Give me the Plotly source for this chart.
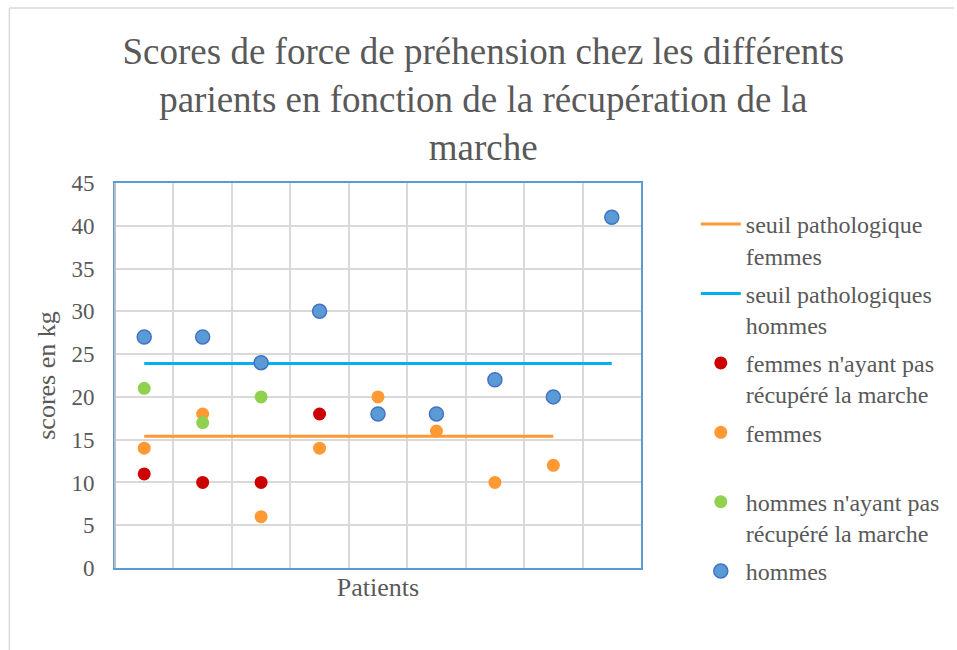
import plotly.graph_objects as go

patients = [1, 2, 3, 4, 5, 6, 7, 8, 9]

seuil_femmes_x = [1, 2, 3, 4, 5, 6, 7, 8]
seuil_femmes = [15.4, 15.4, 15.4, 15.4, 15.4, 15.4, 15.4, 15.4]

seuil_hommes_x = [1, 2, 3, 4, 5, 6, 7, 8, 9]
seuil_hommes = [23.9, 23.9, 23.9, 23.9, 23.9, 23.9, 23.9, 23.9, 23.9]

femmes_nr_x = [1, 2, 3, 4]
femmes_nr = [11, 10, 10, 18]

femmes_x = [1, 2, 3, 4, 5, 6, 7, 8]
femmes = [14, 18, 6, 14, 20, 16, 10, 12]

hommes_nr_x = [1, 2, 3]
hommes_nr = [21, 17, 20]

hommes_x = [1, 2, 3, 4, 5, 6, 7, 8, 9]
hommes = [27, 27, 24, 30, 18, 18, 22, 20, 41]

y_ticks = [0, 5, 10, 15, 20, 25, 30, 35, 40, 45]

FONT = "Times New Roman, Liberation Serif, serif"
GREY = "#595959"

fig = go.Figure()

fig.add_trace(go.Scatter(x=seuil_femmes_x, y=seuil_femmes, mode="lines",
                         name="seuil pathologique<br>femmes", legendgroup="a",
                         line=dict(color="#FF9933", width=3)))
fig.add_trace(go.Scatter(x=seuil_hommes_x, y=seuil_hommes, mode="lines",
                         name="seuil pathologiques<br>hommes", legendgroup="b",
                         line=dict(color="#00B0F0", width=3)))
fig.add_trace(go.Scatter(x=femmes_nr_x, y=femmes_nr, mode="markers",
                         name="femmes n'ayant pas<br>récupéré la marche", legendgroup="c",
                         marker=dict(color="#CC0000", size=13)))
fig.add_trace(go.Scatter(x=femmes_x, y=femmes, mode="markers",
                         name="femmes<br> ", legendgroup="d",
                         marker=dict(color="#FF9933", size=13)))
fig.add_trace(go.Scatter(x=hommes_nr_x, y=hommes_nr, mode="markers",
                         name="hommes n'ayant pas<br>récupéré la marche", legendgroup="e",
                         marker=dict(color="#92D050", size=13)))
fig.add_trace(go.Scatter(x=hommes_x, y=hommes, mode="markers",
                         name="hommes", legendgroup="f",
                         marker=dict(color="#5B9BD5", size=14,
                                     line=dict(color="#4472C4", width=1.5))))

L, R, T, B = 115, 643, 183, 568
W, H = 957, 650
pw, ph = R - L, B - T

def px(x):
    return (x - L) / pw

def py(y):
    return (B - y) / ph

shapes = [
    # outer chart frame
    dict(type="line", xref="paper", yref="paper", x0=px(9), x1=px(9), y0=py(8), y1=py(660),
         line=dict(color="#D9D9D9", width=1.5)),
    dict(type="line", xref="paper", yref="paper", x0=px(9), x1=px(957), y0=py(8), y1=py(8),
         line=dict(color="#D9D9D9", width=1.5)),
    # left axis line grey
    dict(type="line", xref="paper", yref="paper", x0=0, x1=0, y0=0, y1=1,
         line=dict(color="#BFBFBF", width=2), layer="above"),
]

fig.update_layout(
    width=W, height=H,
    margin=dict(l=L, r=W - R, t=T, b=H - B, pad=0),
    paper_bgcolor="white", plot_bgcolor="white",
    font=dict(family=FONT, color=GREY, size=23),
    title=dict(text="Scores de force de préhension chez les différents<br>parients en fonction de la récupération de la<br>marche",
               x=0.505, xanchor="center", y=1 - 64 / H, yanchor="top", yref="container",
               font=dict(family=FONT, size=37, color=GREY)),
    xaxis=dict(range=[0.5, 9.5], tickvals=[0.5, 1.5, 2.5, 3.5, 4.5, 5.5, 6.5, 7.5, 8.5, 9.5],
               showticklabels=False, showgrid=True, gridcolor="#D9D9D9", gridwidth=1.5,
               zeroline=False, showline=True, linecolor="#5B9BD5", linewidth=2, mirror=True,
               ticks="", title=dict(text="Patients", font=dict(family=FONT, size=26), standoff=9)),
    yaxis=dict(range=[0, 45], tickvals=y_ticks, showgrid=True, gridcolor="#D9D9D9", gridwidth=1.5,
               zeroline=False, showline=True, linecolor="#5B9BD5", linewidth=2, mirror=True,
               ticks="outside", ticklen=14, tickcolor="rgba(0,0,0,0)",
               tickfont=dict(family=FONT, size=23),
               title=dict(text="scores en kg", font=dict(family=FONT, size=26), standoff=8)),
    legend=dict(x=px(698), y=py(202), xanchor="left", yanchor="top", valign="top",
                font=dict(family=FONT, size=24, color=GREY), tracegroupgap=4, traceorder="grouped",
                itemwidth=40, bgcolor="rgba(0,0,0,0)", maxheight=640),
    shapes=shapes,
)

fig.write_html("out.html", config={"displayModeBar": False},
               post_script="document.body.style.margin='0';document.body.style.overflow='hidden';")
